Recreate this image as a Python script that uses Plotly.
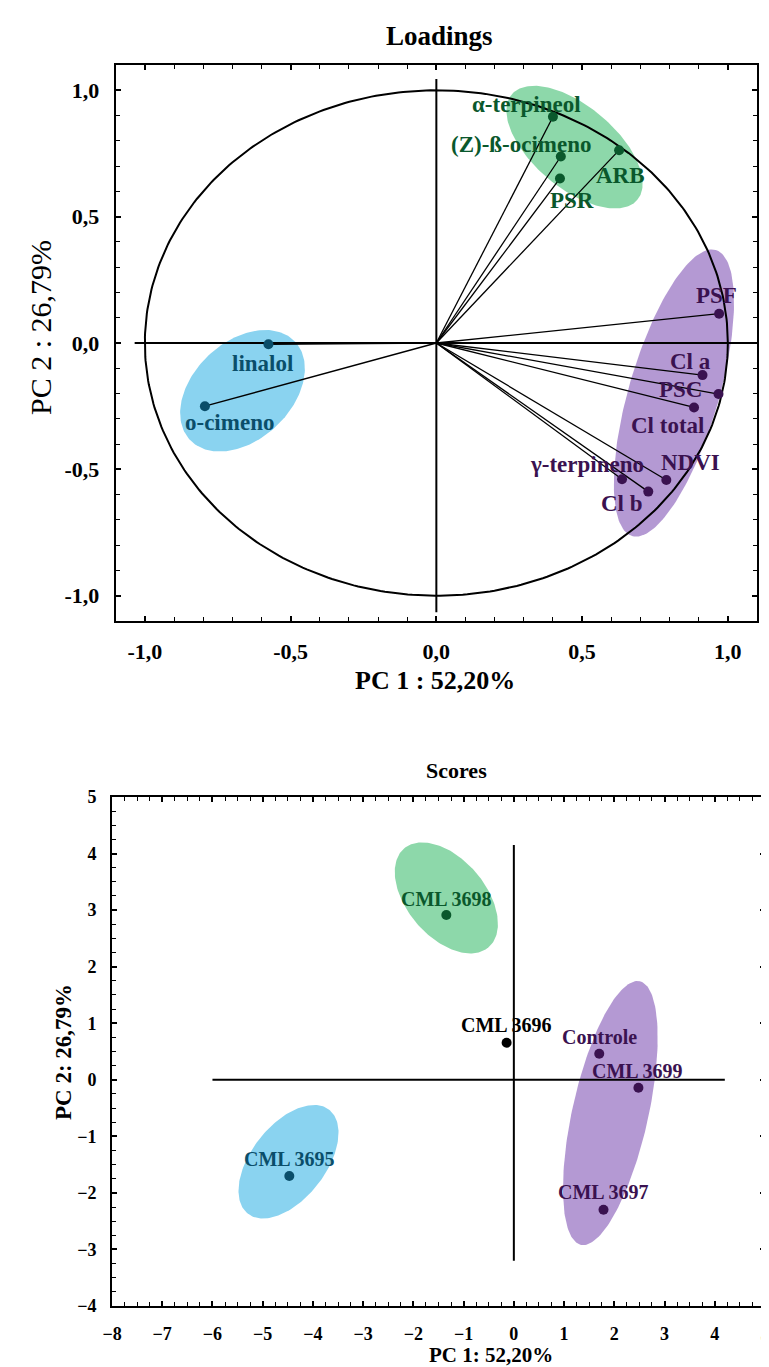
import numpy as np
import plotly.graph_objects as go

W, H = 769, 1367
FONT = "Liberation Serif"

# ---------------- DATA ----------------
loading_names = ["α-terpineol", "(Z)-ß-ocimeno", "PSR", "ARB",
                 "PSF", "Cl a", "PSC", "Cl total", "NDVI", "γ-terpineno", "Cl b",
                 "linalol", "o-cimeno"]
loading_pc1 = [0.400, 0.427, 0.424, 0.627,
               0.970, 0.913, 0.968, 0.884, 0.789, 0.637, 0.727,
               -0.576, -0.794]
loading_pc2 = [0.895, 0.738, 0.651, 0.763,
               0.116, -0.127, -0.202, -0.255, -0.542, -0.539, -0.588,
               -0.005, -0.250]
loading_group = ["green"] * 4 + ["purple"] * 7 + ["blue"] * 2

score_names = ["CML 3698", "CML 3696", "Controle", "CML 3699", "CML 3697", "CML 3695"]
score_pc1 = [-1.344, -0.144, 1.70, 2.48, 1.785, -4.47]
score_pc2 = [2.915, 0.654, 0.459, -0.141, -2.297, -1.70]
score_group = ["green", "none", "purple", "purple", "purple", "blue"]

top_tickvals = [-1.0, -0.5, 0.0, 0.5, 1.0]
top_ticktext = ["-1,0", "-0,5", "0,0", "0,5", "1,0"]

# ---------------- STYLE ----------------
fill_col = {"green": "rgb(141,216,170)", "purple": "rgb(180,153,211)", "blue": "rgb(138,211,240)"}
mark_col = {"green": "rgb(10,88,44)", "purple": "rgb(58,18,80)", "blue": "rgb(10,78,106)", "none": "black"}

# label offsets in pixels (dx right, dy up)
loading_label_dx = [-26, -39, 12, 1, -3, -12, -38, -27, 24, -35, -26, -6, 25]
loading_label_dy = [12, 12, -22, -25, 18, 14, 5, -18, 17, 15, -12, -19, -16]
score_label_dx = [0, 0, 0, -1, 0, 0]
score_label_dy = [16, 18, 17, 17, 18, 17]

# plot areas (pixels)
TOP_PX = (107.7, 749.0, 57.0, 613.0)
BOT_PX = (104.0, 757.0, 789.0, 1298.0)
TOP_RANGE_X, TOP_RANGE_Y = [-1.1, 1.1], [-1.1, 1.1]
BOT_RANGE_X, BOT_RANGE_Y = [-8, 5], [-4, 5]

def dom(px):
    l, r, t, b = px
    return [l / W, r / W], [1 - b / H, 1 - t / H]

top_xd, top_yd = dom(TOP_PX)
bot_xd, bot_yd = dom(BOT_PX)
kx_top = (TOP_PX[1] - TOP_PX[0]) / (TOP_RANGE_X[1] - TOP_RANGE_X[0])
ky_top = (TOP_PX[3] - TOP_PX[2]) / (TOP_RANGE_Y[1] - TOP_RANGE_Y[0])
kx_bot = (BOT_PX[1] - BOT_PX[0]) / (BOT_RANGE_X[1] - BOT_RANGE_X[0])
ky_bot = (BOT_PX[3] - BOT_PX[2]) / (BOT_RANGE_Y[1] - BOT_RANGE_Y[0])

# group ellipses: center (data), semi-axes (px), angle (deg)
top_ellipses = [("green", 0.474, 0.775, 82, 41, -40),
                ("purple", 0.815, -0.198, 149, 45, 73.7),
                ("blue", -0.665, -0.189, 72, 49, 43)]
bot_ellipses = [("green", -1.344, 3.216, 65, 39, -49.5),
                ("purple", 1.921, -0.588, 135, 38, 77.4),
                ("blue", -4.486, -1.449, 66, 37, 52)]

def ellipse(cx, cy, a, b, ang, kx, ky):
    t = np.linspace(0, 2 * np.pi, 200)
    th = np.radians(ang)
    dx = a * np.cos(t) * np.cos(th) - b * np.sin(t) * np.sin(th)
    dy = a * np.cos(t) * np.sin(th) + b * np.sin(t) * np.cos(th)
    return cx + dx / kx, cy + dy / ky

fig = go.Figure()

for g, cx, cy, a, b, ang in top_ellipses:
    ex, ey = ellipse(cx, cy, a, b, ang, kx_top, ky_top)
    fig.add_trace(go.Scatter(x=ex, y=ey, mode="lines", fill="toself", fillcolor=fill_col[g],
                             line=dict(width=0), hoverinfo="skip", xaxis="x", yaxis="y"))
for g, cx, cy, a, b, ang in bot_ellipses:
    ex, ey = ellipse(cx, cy, a, b, ang, kx_bot, ky_bot)
    fig.add_trace(go.Scatter(x=ex, y=ey, mode="lines", fill="toself", fillcolor=fill_col[g],
                             line=dict(width=0), hoverinfo="skip", xaxis="x2", yaxis="y2"))

# Top: reference lines and unit circle
fig.add_trace(go.Scatter(x=[-1.035, 1.1, None, 0, 0], y=[0, 0, None, -1.065, 1.045], mode="lines",
                         line=dict(color="black", width=2), xaxis="x", yaxis="y", hoverinfo="skip"))
tc = np.linspace(0, 2 * np.pi, 400)
fig.add_trace(go.Scatter(x=np.cos(tc), y=np.sin(tc), mode="lines",
                         line=dict(color="black", width=2), xaxis="x", yaxis="y", hoverinfo="skip"))
# loading vectors
vx, vy = [], []
for x, y in zip(loading_pc1, loading_pc2):
    vx += [0, x, None]
    vy += [0, y, None]
fig.add_trace(go.Scatter(x=vx, y=vy, mode="lines", line=dict(color="black", width=1.3),
                         xaxis="x", yaxis="y", hoverinfo="skip"))
fig.add_trace(go.Scatter(x=loading_pc1, y=loading_pc2, mode="markers",
                         marker=dict(size=10, color=[mark_col[g] for g in loading_group]),
                         xaxis="x", yaxis="y"))

# Bottom: reference lines
fig.add_trace(go.Scatter(x=[-6, 4.2, None, 0, 0], y=[0, 0, None, -3.2, 4.15], mode="lines",
                         line=dict(color="black", width=2), xaxis="x2", yaxis="y2", hoverinfo="skip"))
fig.add_trace(go.Scatter(x=score_pc1, y=score_pc2, mode="markers",
                         marker=dict(size=10, color=[mark_col[g] for g in score_group]),
                         xaxis="x2", yaxis="y2"))

ann = []
for n, x, y, g, dx, dy in zip(loading_names, loading_pc1, loading_pc2, loading_group,
                              loading_label_dx, loading_label_dy):
    ann.append(dict(text=f"<b>{n}</b>", x=x, y=y, xref="x", yref="y", showarrow=False,
                    xshift=dx, yshift=dy, font=dict(family=FONT, size=23, color=mark_col[g])))
for n, x, y, g, dx, dy in zip(score_names, score_pc1, score_pc2, score_group,
                              score_label_dx, score_label_dy):
    ann.append(dict(text=f"<b>{n}</b>", x=x, y=y, xref="x2", yref="y2", showarrow=False,
                    xshift=dx, yshift=dy, font=dict(family=FONT, size=20, color=mark_col[g])))

def paper_text(text, px, py, size, angle=0):
    return dict(text=text, x=px / W, y=1 - py / H, xref="paper", yref="paper", showarrow=False,
                xanchor="center", yanchor="middle", textangle=angle,
                font=dict(family=FONT, size=size, color="black"))

ann += [paper_text("<b>Loadings</b>", 431, 28, 27),
        paper_text("<b>PC 1 : 52,20%</b>", 427, 672, 26),
        paper_text("PC 2 : 26,79%", 32, 320, 30, -90),
        paper_text("<b>Scores</b>", 448, 762, 22),
        paper_text("<b>PC 1: 52,20%</b>", 483, 1347, 21),
        paper_text("<b>PC 2: 26,79%</b>", 55, 1044, 23, -90)]

axis_common = dict(showgrid=False, zeroline=False, showline=True, linecolor="black", linewidth=2,
                   mirror="ticks", ticks="inside", ticklen=5, tickwidth=1.5, tickcolor="black",
                   fixedrange=True, automargin=False)

fig.update_layout(
    width=W, height=H, autosize=False, showlegend=False,
    margin=dict(l=0, r=0, t=0, b=0, pad=0),
    paper_bgcolor="white", plot_bgcolor="white",
    xaxis=dict(domain=top_xd, range=TOP_RANGE_X, anchor="y", tickvals=top_tickvals,
               ticktext=top_ticktext, tickfont=dict(family=FONT, size=22, color="black", weight="bold"),
               ticklabelstandoff=10,
               minor=dict(dtick=0.1, ticks="inside", ticklen=4, tickwidth=1.2, tickcolor="black"),
               **axis_common),
    yaxis=dict(domain=top_yd, range=TOP_RANGE_Y, anchor="x", tickvals=top_tickvals,
               ticktext=top_ticktext, tickfont=dict(family=FONT, size=22, color="black", weight="bold"),
               ticklabelstandoff=10,
               minor=dict(dtick=0.1, ticks="inside", ticklen=4, tickwidth=1.2, tickcolor="black"),
               **axis_common),
    xaxis2=dict(domain=bot_xd, range=BOT_RANGE_X, anchor="y2", dtick=1, tick0=0,
                tickfont=dict(family=FONT, size=18, color="black", weight="bold"),
                ticklabelstandoff=10,
                minor=dict(dtick=0.25, ticks="inside", ticklen=4, tickwidth=1.2, tickcolor="black"),
                **axis_common),
    yaxis2=dict(domain=bot_yd, range=BOT_RANGE_Y, anchor="x2", dtick=1, tick0=0,
                tickfont=dict(family=FONT, size=18, color="black", weight="bold"),
                ticklabelstandoff=10,
                minor=dict(dtick=0.25, ticks="inside", ticklen=4, tickwidth=1.2, tickcolor="black"),
                **axis_common),
    annotations=ann,
)

fig.write_html("out.html")
